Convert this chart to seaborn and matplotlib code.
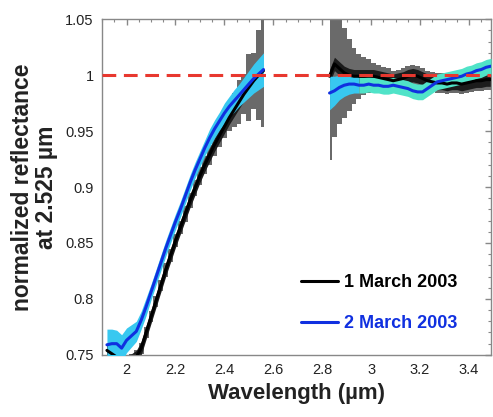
import numpy as np
import pandas as pd
import seaborn as sns
import matplotlib.pyplot as plt
from matplotlib.lines import Line2D
from matplotlib.ticker import MultipleLocator

# wavelength samples (um) for the two observed windows
wl_left = np.round(np.arange(1.92, 2.561, 0.02), 2)
wl_right = np.round(np.arange(2.83, 3.491, 0.02), 2)

# 2 March 2003 (blue) and its spread (cyan)
mar2_left = [0.759, 0.760, 0.760, 0.756, 0.763, 0.767, 0.771, 0.781, 0.793, 0.806,
             0.819, 0.832, 0.845, 0.857, 0.869, 0.880, 0.892, 0.904, 0.915, 0.925,
             0.935, 0.944, 0.952, 0.959, 0.966, 0.972, 0.977, 0.982, 0.987, 0.992,
             0.997, 1.001, 1.005]
mar2_left_err = [0.014, 0.013, 0.012, 0.012, 0.011, 0.010, 0.009, 0.008, 0.008, 0.007,
                 0.007, 0.007, 0.007, 0.007, 0.007, 0.007, 0.007, 0.007, 0.007, 0.007,
                 0.007, 0.008, 0.008, 0.008, 0.009, 0.009, 0.010, 0.010, 0.011, 0.012,
                 0.013, 0.014, 0.015]
mar2_right = [0.984, 0.986, 0.989, 0.991, 0.992, 0.992, 0.991, 0.991, 0.992, 0.991,
              0.991, 0.990, 0.990, 0.991, 0.990, 0.989, 0.988, 0.986, 0.985, 0.985,
              0.988, 0.991, 0.994, 0.995, 0.996, 0.997, 0.998, 0.999, 1.001, 1.002,
              1.004, 1.005, 1.007, 1.008]
mar2_right_err = [0.015, 0.013, 0.011, 0.010, 0.009, 0.008, 0.007, 0.007, 0.007, 0.007,
                  0.007, 0.007, 0.007, 0.007, 0.007, 0.007, 0.007, 0.007, 0.007, 0.007,
                  0.007, 0.007, 0.007, 0.007, 0.007, 0.007, 0.007, 0.007, 0.007, 0.007,
                  0.007, 0.007, 0.007, 0.007]

# 1 March 2003 (black) and its error bars (grey)
mar1_left = [0.754, 0.751, 0.748, 0.745, 0.744, 0.745, 0.748, 0.756, 0.770, 0.784,
             0.798, 0.812, 0.826, 0.839, 0.852, 0.864, 0.876, 0.888, 0.899, 0.910,
             0.920, 0.929, 0.938, 0.946, 0.954, 0.962, 0.969, 0.976, 0.983, 0.989,
             0.995, 1.000, 1.004]
mar1_left_err = [0.004, 0.004, 0.004, 0.004, 0.005, 0.006, 0.006, 0.005, 0.005, 0.005,
                 0.005, 0.005, 0.006, 0.006, 0.006, 0.006, 0.007, 0.007, 0.007, 0.008,
                 0.008, 0.009, 0.010, 0.010, 0.010, 0.012, 0.015, 0.020, 0.018, 0.030,
                 0.025, 0.040, 0.050]
mar1_right = [0.999, 1.010, 1.006, 1.002, 1.000, 0.999, 0.999, 0.999, 0.999, 0.999,
              0.998, 0.997, 0.996, 0.995, 0.996, 0.997, 0.999, 1.000, 0.999, 0.997,
              0.995, 0.994, 0.993, 0.993, 0.992, 0.993, 0.993, 0.992, 0.993, 0.994,
              0.995, 0.995, 0.996, 0.996]
mar1_right_err = [0.075, 0.065, 0.050, 0.040, 0.032, 0.025, 0.020, 0.017, 0.015, 0.012,
                  0.011, 0.010, 0.010, 0.009, 0.009, 0.009, 0.009, 0.009, 0.009, 0.009,
                  0.009, 0.009, 0.009, 0.009, 0.009, 0.009, 0.009, 0.009, 0.009, 0.009,
                  0.009, 0.009, 0.009, 0.009]

x_ticks = [2, 2.2, 2.4, 2.6, 2.8, 3, 3.2, 3.4]
x_labels = ["2", "2.2", "2.4", "2.6", "2.8", "3", "3.2", "3.4"]
y_ticks = [0.75, 0.8, 0.85, 0.9, 0.95, 1.0, 1.05]
y_labels = ["0.75", "0.8", "0.85", "0.9", "0.95", "1", "1.05"]

sns.set_style("white")
plt.rcParams['font.family'] = ['Liberation Sans', 'DejaVu Sans']

fig = plt.figure(figsize=(4.93, 4.17), dpi=100)
ax = fig.add_axes([0.207, 0.149, 0.789, 0.805])

segments = [(wl_left, mar1_left, mar1_left_err),
            (wl_right, mar1_right, mar1_right_err)]

for wl, m1, e1 in segments:
    m1, e1 = np.asarray(m1), np.asarray(e1)
    ax.fill_between(wl, m1 - e1, m1 + e1, step='mid', color='#6a6a6a', lw=0, zorder=1)
    ax.fill_between(wl, m1 - 0.006, m1 + 0.006, color='#1c1c1c', lw=0, zorder=2)

# cyan spread; the long-wavelength part is more turquoise
ax.fill_between(wl_left, np.array(mar2_left) - mar2_left_err,
                np.array(mar2_left) + mar2_left_err, color='#38c8f0', lw=0, zorder=3)
r_lo = np.array(mar2_right) - mar2_right_err
r_hi = np.array(mar2_right) + mar2_right_err
ax.fill_between(wl_right, r_lo, r_hi, where=wl_right <= 2.96, color='#38c8f0', lw=0, zorder=3)
ax.fill_between(wl_right, r_lo, r_hi, where=wl_right >= 2.94, color='#50e3c8', lw=0, zorder=3)

df = pd.DataFrame({
    "wl": np.concatenate([wl_left, wl_right, wl_left, wl_right]),
    "refl": np.concatenate([mar1_left, mar1_right, mar2_left, mar2_right]),
    "date": ["1 March 2003"] * (len(wl_left) + len(wl_right))
            + ["2 March 2003"] * (len(wl_left) + len(wl_right)),
    "seg": ([0] * len(wl_left) + [1] * len(wl_right)) * 2,
})
sns.lineplot(data=df, x="wl", y="refl", hue="date", units="seg", estimator=None,
             palette={"1 March 2003": "black", "2 March 2003": "#1030e0"},
             lw=2.2, legend=False, ax=ax, zorder=4)

ax.axhline(1.0, color='#e8382f', lw=2.2, dashes=(4.5, 2.5), zorder=6)

ax.set_xlim(1.9, 3.49)
ax.set_ylim(0.75, 1.05)
ax.set_xticks(x_ticks)
ax.set_xticklabels(x_labels)
ax.set_yticks(y_ticks)
ax.set_yticklabels(y_labels)
ax.xaxis.set_minor_locator(MultipleLocator(0.05))
ax.yaxis.set_minor_locator(MultipleLocator(0.01))
ax.tick_params(which='both', direction='in', top=True, right=True, color='#888888',
               labelsize=10.5, labelcolor='#222222', pad=6)
ax.tick_params(which='major', length=4.5, width=1)
ax.tick_params(which='minor', length=2.5, width=0.8)
for sp in ax.spines.values():
    sp.set_color('#888888')
    sp.set_linewidth(1)

ax.set_xlabel("Wavelength (µm)", fontsize=16, fontweight='bold', color='#222222', labelpad=4)
ax.set_ylabel("normalized reflectance\nat 2.525 µm", fontsize=16.5, fontweight='bold',
              color='#222222', labelpad=5, linespacing=1.05)

handles = [Line2D([], [], color='black', lw=2.2), Line2D([], [], color='#1030e0', lw=2.2)]
leg = ax.legend(handles, ["1 March 2003", "2 March 2003"], loc='lower right',
                bbox_to_anchor=(0.955, 0.02), frameon=False, handlelength=2.1,
                handletextpad=0.3, labelspacing=1.3,
                prop={'weight': 'bold', 'size': 13})
leg.get_texts()[0].set_color('black')
leg.get_texts()[1].set_color('#1030e0')

fig.savefig("out.png", dpi=100)
